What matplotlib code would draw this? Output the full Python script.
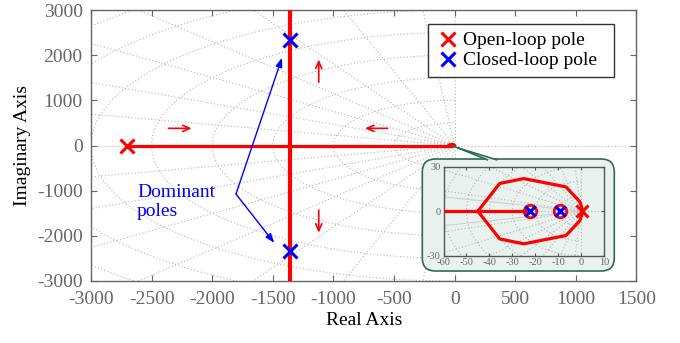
import numpy as np
import matplotlib
matplotlib.use("Agg")
import matplotlib.pyplot as plt
from matplotlib.patches import FancyBboxPatch, Polygon

plt.rcParams['font.family'] = ['Liberation Serif', 'DejaVu Serif']
plt.rcParams['axes.unicode_minus'] = False

# root locus data (rad/s)
ol_x = [-2700]             # open-loop pole, far one
ol_y = [0]
origin_pole_x = [0.5]      # open-loop pole at the origin
origin_pole_y = [0]
cl_x = [-1355, -1355]      # dominant closed-loop poles
cl_y = [2340, -2340]
real_branch_x = [-2700, -45]
real_branch_y = [0, 0]
vert_branch_x = [-1355, -1355]
vert_branch_y = [-3500, 3500]
loop_x = [-45, -35.5, -25, -6.6, -0.5, 0.8, -0.5, -6.6, -25, -35.5, -45]
loop_y = [0, 18.7, 22, 16.4, 6.3, 0, -6.3, -16.4, -22, -18.7, 0]
inner_x = [-60, -22.3]
inner_y = [0, 0]
zero_x = [-22.3, -9.4]
zero_y = [0, 0]
slow_cl_x = [-22.3, -9.4]
slow_cl_y = [0, 0]

xticks = [-3000, -2500, -2000, -1500, -1000, -500, 0, 500, 1000, 1500]
yticks = [-3000, -2000, -1000, 0, 1000, 2000, 3000]
in_xticks = [-60, -50, -40, -30, -20, -10, 0, 10]
in_yticks = [-30, 0, 30]

RED = '#ff0000'
BLUE = '#0000ff'
GREY = '#666666'
GRIDC = '#b4b4b4'
BUBBLE = '#e9f2ee'
GREEN = '#2f6b52'


def draw_sgrid(ax, radii, angles, rmax):
    '''dotted damping lines and natural frequency arcs in the left half plane'''
    t = np.linspace(np.pi / 2, 3 * np.pi / 2, 300)
    kw = dict(color=GRIDC, lw=0.8, ls=(0, (1, 2)), zorder=0)
    for r in radii:
        ax.plot(r * np.cos(t), r * np.sin(t), **kw)
    for a in angles:
        th = np.radians(a)
        ax.plot([0, -rmax * np.cos(th)], [0, rmax * np.sin(th)], **kw)
        ax.plot([0, -rmax * np.cos(th)], [0, -rmax * np.sin(th)], **kw)
    ax.axhline(0, **kw)
    ax.axvline(0, **kw)


def style_axes(ax, size, color):
    for s in ax.spines.values():
        s.set_color(color)
        s.set_linewidth(1.0)
    ax.tick_params(direction='in', top=True, right=True, length=4,
                   color=color, labelcolor=GREY, labelsize=size)


fig = plt.figure(figsize=(6.8, 3.43), dpi=100)
ax = fig.add_axes([0.1338, 0.1808, 0.8022, 0.790])

draw_sgrid(ax, np.arange(500, 5001, 500), [13, 25, 37, 49, 61, 73, 85], 8000)

ax.plot(real_branch_x, real_branch_y, color=RED, lw=2.3, zorder=3)
ax.plot(vert_branch_x, vert_branch_y, color=RED, lw=3.0, zorder=3)
ax.plot(loop_x, loop_y, color=RED, lw=2.3, zorder=3)
ax.plot(ol_x, ol_y, 'x', color=RED, ms=10, mew=2.2, zorder=4, label='Open-loop pole  ')
ax.plot(cl_x, cl_y, 'x', color=BLUE, ms=10, mew=2.2, zorder=4, label='Closed-loop pole  ')

ax.set_xlim(-3000, 1500)
ax.set_ylim(-3000, 3000)
ax.set_xticks(xticks)
ax.set_yticks(yticks)
style_axes(ax, 14, GREY)
ax.tick_params(axis='x', pad=7)
ax.tick_params(axis='y', pad=6)
ax.set_xlabel('Real Axis', fontsize=14, labelpad=3)
ax.set_ylabel('Imaginary Axis', fontsize=14, labelpad=4)

# direction of travel along the branches
red_arrow = dict(arrowstyle='->,head_length=0.5,head_width=0.22', color=RED, lw=1.2)
ax.annotate('', xy=(-2146, 380), xytext=(-2383, 380), arrowprops=red_arrow)
ax.annotate('', xy=(-763, 380), xytext=(-531, 380), arrowprops=red_arrow)
ax.annotate('', xy=(-1121, 1965), xytext=(-1121, 1340), arrowprops=red_arrow)
ax.annotate('', xy=(-1121, -1993), xytext=(-1121, -1369), arrowprops=red_arrow)

blue_arrow = dict(arrowstyle='-|>,head_length=0.55,head_width=0.2', color=BLUE, lw=1.0,
                  shrinkA=0, shrinkB=0)
knee = (-1804, -1075)
ax.annotate('', xy=(-1424, 1943), xytext=knee, arrowprops=blue_arrow)
ax.annotate('', xy=(-1488, -2157), xytext=knee, arrowprops=blue_arrow)
ax.text(-2620, -850, 'Dominant\npoles', color=BLUE, fontsize=14, va='top', ha='left',
        linespacing=1.2)

leg = ax.legend(loc='upper right', bbox_to_anchor=(0.903, 0.930),
                bbox_transform=fig.transFigure, fontsize=14, frameon=True,
                fancybox=False, edgecolor='black', borderaxespad=0,
                handlelength=1.2, handletextpad=0.15, borderpad=0.4,
                labelspacing=0.12)
leg.get_frame().set_linewidth(1.0)
leg.set_zorder(10)

# callout bubble on a pixel-space overlay
over = fig.add_axes([0, 0, 1, 1], zorder=5)
over.set_xlim(0, 680)
over.set_ylim(343, 0)
over.axis('off')
over.patch.set_alpha(0)
bubble = FancyBboxPatch((422.3, 159), 192, 112, boxstyle='round,pad=0,rounding_size=13',
                        facecolor=BUBBLE, edgecolor=GREEN, lw=1.2)
over.add_patch(bubble)
fig.canvas.draw()
ox, oy = ax.transData.transform((0, 0))
oy = 343 - oy
pointer = [(ox - 1.5, oy + 0.5), (ox + 3.5, oy + 2.5), (496.7, 159.8), (487.3, 159.8)]
over.add_patch(Polygon(pointer, closed=True, facecolor=BUBBLE, edgecolor='none'))
over.plot([pointer[0][0], pointer[3][0]], [pointer[0][1], pointer[3][1]], color=GREEN, lw=1.2)
over.plot([pointer[1][0], pointer[2][0]], [pointer[1][1], pointer[2][1]], color=GREEN, lw=1.2)

# zoomed view near the origin
ins = fig.add_axes([443.5 / 680, 1 - 255.7 / 343, 160.5 / 680, 89 / 343], zorder=6)
ins.set_facecolor(BUBBLE)
draw_sgrid(ins, np.arange(10, 71, 10), [13, 25, 37, 49, 61, 73, 85], 200)
for s in (1, -1):
    ins.plot([0, -70], [0, s * 11.3], color='#cfcfcf', lw=0.8, zorder=0)
ins.plot(inner_x, inner_y, color=RED, lw=2.3, zorder=3)
ins.plot(loop_x, loop_y, color=RED, lw=2.3, zorder=3)
ins.plot(zero_x, zero_y, 'o', mfc='none', mec=RED, ms=9, mew=2.0, zorder=4)
ins.plot(slow_cl_x, slow_cl_y, 'x', color=BLUE, ms=7.5, mew=2.2, zorder=5)
ins.plot(origin_pole_x, origin_pole_y, 'x', color=RED, ms=8, mew=2.2, zorder=5)
ins.set_xlim(-60, 10)
ins.set_ylim(-30, 30)
ins.set_xticks(in_xticks)
ins.set_yticks(in_yticks)
style_axes(ins, 7.5, '#555555')
ins.tick_params(length=2, pad=2)

fig.savefig('out.png', dpi=100)
